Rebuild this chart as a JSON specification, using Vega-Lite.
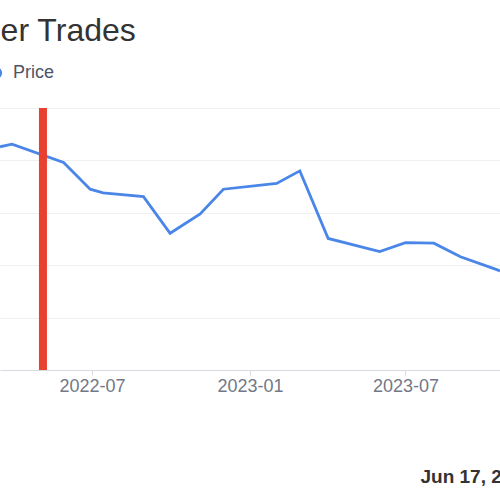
{
  "$schema": "https://vega.github.io/schema/vega-lite/v6.json",
  "autosize": {"type": "none"},
  "width": 500,
  "height": 262,
  "padding": {"top": 108, "left": 0, "right": 0, "bottom": 130},
  "background": "#ffffff",
  "title": {
    "text": "Insider Trades",
    "anchor": "start",
    "frame": "group",
    "dx": -67,
    "offset": 16,
    "font": "Liberation Sans",
    "fontSize": 32,
    "fontWeight": "normal",
    "color": "#333333"
  },
  "datasets": {
    "price": [
      {"date": "2022-03-16", "price": 42.6, "series": "Price"},
      {"date": "2022-03-30", "price": 43.1, "series": "Price"},
      {"date": "2022-05-29", "price": 39.6, "series": "Price"},
      {"date": "2022-06-29", "price": 34.5, "series": "Price"},
      {"date": "2022-07-14", "price": 33.8, "series": "Price"},
      {"date": "2022-08-30", "price": 33.1, "series": "Price"},
      {"date": "2022-09-30", "price": 26.1, "series": "Price"},
      {"date": "2022-11-04", "price": 29.8, "series": "Price"},
      {"date": "2022-12-01", "price": 34.5, "series": "Price"},
      {"date": "2023-02-01", "price": 35.6, "series": "Price"},
      {"date": "2023-02-28", "price": 38.0, "series": "Price"},
      {"date": "2023-04-02", "price": 25.1, "series": "Price"},
      {"date": "2023-06-01", "price": 22.6, "series": "Price"},
      {"date": "2023-07-01", "price": 24.3, "series": "Price"},
      {"date": "2023-08-03", "price": 24.2, "series": "Price"},
      {"date": "2023-09-03", "price": 21.6, "series": "Price"},
      {"date": "2023-10-16", "price": 19.1, "series": "Price"},
      {"date": "2023-10-19", "price": 18.9, "series": "Price"}
    ],
    "trades": [
      {"date": "2022-05-05"}
    ]
  },
  "layer": [
    {
      "data": {"name": "price"},
      "mark": {"type": "line", "strokeWidth": 2.8, "clip": true},
      "encoding": {
        "x": {
          "field": "date",
          "type": "temporal",
          "scale": {"domain": ["2022-03-16", "2023-10-19"]},
          "axis": {
            "values": ["2022-07-01", "2023-01-01", "2023-07-01"],
            "format": "%Y-%m",
            "grid": false,
            "labelFont": "Liberation Sans",
            "labelFontSize": 18,
            "labelColor": "#737886",
            "labelPadding": 2,
            "tickSize": 5,
            "tickColor": "#d8dae2",
            "domainColor": "#d8dae2",
            "title": "Jun 17, 2024",
            "titleX": 420,
            "titleY": 112,
            "titleAlign": "left",
            "titleBaseline": "alphabetic",
            "titleFont": "Liberation Sans",
            "titleFontSize": 19,
            "titleFontWeight": "bold",
            "titleColor": "#333333"
          }
        },
        "y": {
          "field": "price",
          "type": "quantitative",
          "scale": {"domain": [0, 50]},
          "axis": {
            "values": [0, 10, 20, 30, 40, 50],
            "labels": false,
            "ticks": false,
            "domain": false,
            "grid": true,
            "gridColor": "#f0f0f2",
            "title": null
          }
        },
        "color": {
          "field": "series",
          "type": "nominal",
          "scale": {"domain": ["Price"], "range": ["#4a86e8"]},
          "legend": {
            "orient": "none",
            "legendX": -13,
            "legendY": -44,
            "title": null,
            "padding": 0,
            "symbolType": "circle",
            "symbolSize": 150,
            "symbolFillColor": "#4a86e8",
            "symbolStrokeWidth": 0,
            "labelOffset": 8,
            "labelFont": "Liberation Sans",
            "labelFontSize": 18,
            "labelColor": "#4d5466"
          }
        }
      }
    },
    {
      "data": {"name": "trades"},
      "mark": {"type": "rule", "strokeWidth": 8, "color": "#e8412f"},
      "encoding": {
        "x": {"field": "date", "type": "temporal"}
      }
    }
  ],
  "config": {"view": {"stroke": null}}
}
